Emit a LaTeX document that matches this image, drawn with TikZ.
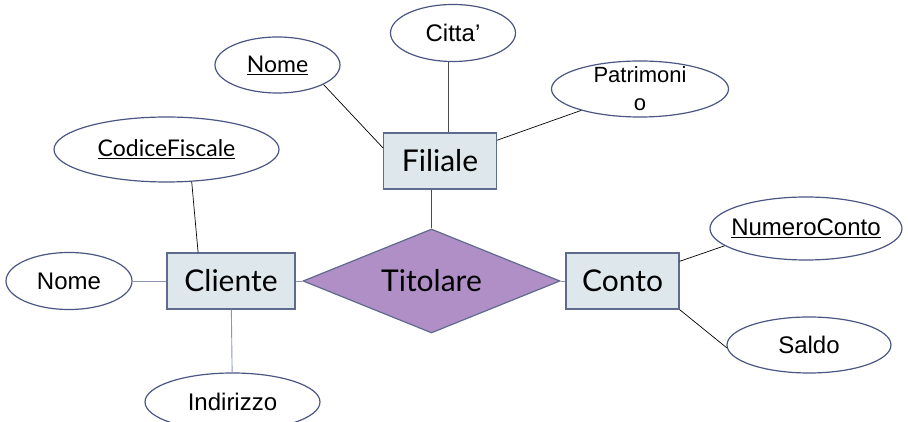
\documentclass[tikz,border=0pt]{standalone}
\usepackage{fontspec}
\setmainfont{Liberation Sans}
\newfontfamily\gillfont{Lato}
\usetikzlibrary{shapes.geometric}

\definecolor{entfill}{HTML}{DDE7EC}
\definecolor{entborder}{HTML}{5E6B8C}
\definecolor{relfill}{HTML}{B08FC7}
\definecolor{attrborder}{HTML}{4B5683}
\definecolor{linegray}{HTML}{8C96B4}

\tikzstyle{entity} = [rectangle, 
minimum width=113pt, 
minimum height=56pt,
text centered, 
draw=entborder, 
line width=1.2pt,
fill=entfill,
font=\gillfont\fontsize{30}{34}\selectfont]
\tikzstyle{relation} = [diamond, 
aspect=2.5, 
inner sep=0pt,
minimum width=257pt, 
minimum height=104pt, text centered, 
draw=entborder, line width=1.2pt, fill=relfill,
font=\gillfont\fontsize{30}{34}\selectfont]
\tikzstyle{attr} = [ellipse, 
minimum width=125pt, 
minimum height=56pt, 
inner sep=0pt,
text centered, 
draw=attrborder, 
line width=1.2pt,
fill=white,
font=\fontsize{24}{28}\selectfont]
\tikzstyle{keyattr} = [attr, font=\gillfont\fontsize{23}{27}\selectfont]
\tikzstyle{link} = [black, line width=0.7pt]
\tikzstyle{softlink} = [draw=linegray, line width=0.9pt]

\begin{document}
\begin{tikzpicture}[node distance=120pt]
\useasboundingbox (-431.5pt,-141pt) rectangle (476.5pt,281pt);

\node (tit) [relation] {Titolare};
\node (filiale) [entity, above of=tit, xshift=8.5pt] {Filiale};
\node (cliente) [entity, left of=tit, xshift=-80.5pt, minimum width=128pt] {Cliente};
\node (conto) [entity, right of=tit, xshift=71pt] {Conto};

\node (nomeF) [keyattr, above of=filiale, xshift=-162.5pt, yshift=-24pt] {\underline{Nome}};
\node (citta) [attr, above of=filiale, xshift=13pt, yshift=8pt, minimum height=57pt] {Citta'};
\node (patr) [attr, above of=filiale, xshift=200pt, yshift=-48pt, minimum width=177pt, inner ysep=-12pt, align=center, font=\fontsize{22}{28}\selectfont] {Patrimoni\\o};

\node (codice) [keyattr, above of=cliente, xshift=-64.5pt, yshift=11.5pt, minimum width=225pt, minimum height=65pt] {\underline{CodiceFiscale}};
\node (nomeC) [attr, left of=cliente, xshift=-42pt, minimum width=126pt, minimum height=57pt] {Nome};
\node (indir) [attr, below of=cliente, xshift=1.5pt, yshift=-1pt, minimum width=175pt, minimum height=58pt] {Indirizzo};

\node (numero) [attr, right of=conto, xshift=63.5pt, yshift=52.5pt, minimum width=192pt, minimum height=63pt, inner xsep=-16pt] {\underline{NumeroConto}};
\node (saldo) [attr, right of=conto, xshift=66.5pt, yshift=-64pt, minimum width=164pt] {Saldo};

\draw [link] (nomeF.-23) -- (filiale.167);
\draw [link, draw=black!70] (citta.260) -- (citta.260 |- filiale.north);
\draw [link] (patr.200) -- (filiale.20);
\draw [link, draw=black!70] (tit.north) -- (tit.north |- filiale.south);
\draw [link] (codice.-52) -- (cliente.139);
\draw [softlink] (nomeC) -- (cliente);
\draw [softlink] (cliente) -- (indir);
\draw [softlink] (cliente) -- (tit);
\draw [softlink] (tit) -- (conto);
\draw [link] (conto.19) -- (numero.192);
\draw [link] (conto.south east) -- (saldo.182);


\end{tikzpicture}
\end{document}
